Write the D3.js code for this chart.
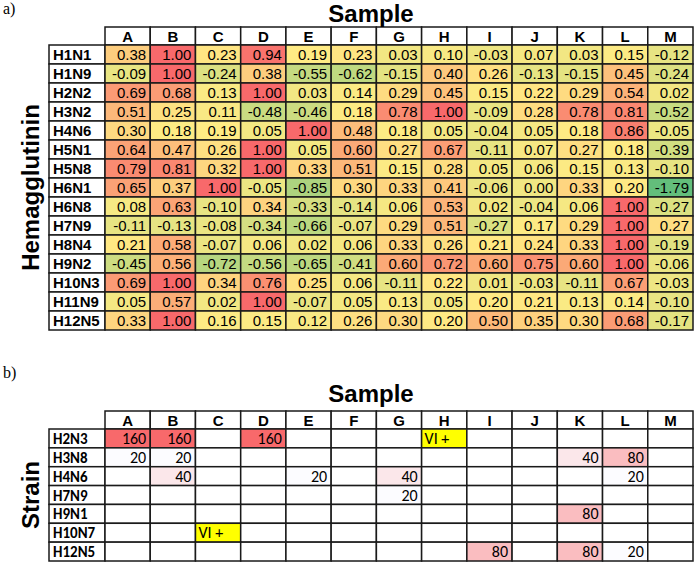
<!doctype html>
<html>
<head>
<meta charset="utf-8">
<title>Heatmap tables</title>
<script src="https://cdn.jsdelivr.net/npm/d3@7"></script>
<style>
  body { margin: 0; background: #fff; }
  svg text { font-family: Arial, "Liberation Sans", sans-serif; }
  .panel { font-family: "Liberation Serif", "Times New Roman", serif !important; font-size: 16px; }
  .title { font-size: 24px; font-weight: bold; }
  .colhead { font-size: 15px; font-weight: bold; }
  .rowhead { font-size: 15px; font-weight: bold; }
  .val { font-size: 15px; }
  .rowhead2 { font-family: Carlito, Lato, "Open Sans", sans-serif !important; font-size: 15px; font-weight: bold; }
  .val2 { font-family: Carlito, Lato, "Open Sans", sans-serif !important; font-size: 16px; }
</style>
</head>
<body>
<script>
var samples = ["A","B","C","D","E","F","G","H","I","J","K","L","M"];

var haRows = ["H1N1","H1N9","H2N2","H3N2","H4N6","H5N1","H5N8","H6N1",
              "H6N8","H7N9","H8N4","H9N2","H10N3","H11N9","H12N5"];
var haValues = [
  [0.38, 1.00, 0.23, 0.94, 0.19, 0.23, 0.03, 0.10, -0.03, 0.07, 0.03, 0.15, -0.12],
  [-0.09, 1.00, -0.24, 0.38, -0.55, -0.62, -0.15, 0.40, 0.26, -0.13, -0.15, 0.45, -0.24],
  [0.69, 0.68, 0.13, 1.00, 0.03, 0.14, 0.29, 0.45, 0.15, 0.22, 0.29, 0.54, 0.02],
  [0.51, 0.25, 0.11, -0.48, -0.46, 0.18, 0.78, 1.00, -0.09, 0.28, 0.78, 0.81, -0.52],
  [0.30, 0.18, 0.19, 0.05, 1.00, 0.48, 0.18, 0.05, -0.04, 0.05, 0.18, 0.86, -0.05],
  [0.64, 0.47, 0.26, 1.00, 0.05, 0.60, 0.27, 0.67, -0.11, 0.07, 0.27, 0.18, -0.39],
  [0.79, 0.81, 0.32, 1.00, 0.33, 0.51, 0.15, 0.28, 0.05, 0.06, 0.15, 0.13, -0.10],
  [0.65, 0.37, 1.00, -0.05, -0.85, 0.30, 0.33, 0.41, -0.06, 0.00, 0.33, 0.20, -1.79],
  [0.08, 0.63, -0.10, 0.34, -0.33, -0.14, 0.06, 0.53, 0.02, -0.04, 0.06, 1.00, -0.27],
  [-0.11, -0.13, -0.08, -0.34, -0.66, -0.07, 0.29, 0.51, -0.27, 0.17, 0.29, 1.00, 0.27],
  [0.21, 0.58, -0.07, 0.06, 0.02, 0.06, 0.33, 0.26, 0.21, 0.24, 0.33, 1.00, -0.19],
  [-0.45, 0.56, -0.72, -0.56, -0.65, -0.41, 0.60, 0.72, 0.60, 0.75, 0.60, 1.00, -0.06],
  [0.69, 1.00, 0.34, 0.76, 0.25, 0.06, -0.11, 0.22, 0.01, -0.03, -0.11, 0.67, -0.03],
  [0.05, 0.57, 0.02, 1.00, -0.07, 0.05, 0.13, 0.05, 0.20, 0.21, 0.13, 0.14, -0.10],
  [0.33, 1.00, 0.16, 0.15, 0.12, 0.26, 0.30, 0.20, 0.50, 0.35, 0.30, 0.68, -0.17]
];

var strainRows = ["H2N3","H3N8","H4N6","H7N9","H9N1","H10N7","H12N5"];
// null = empty cell, "VI +" = virus isolated
var strainValues = [
  [160, 160, null, 160, null, null, null, "VI +", null, null, null, null, null],
  [20, 20, null, null, null, null, null, null, null, null, 40, 80, null],
  [null, 40, null, null, 20, null, 40, null, null, null, null, 20, null],
  [null, null, null, null, null, null, 20, null, null, null, null, null, null],
  [null, null, null, null, null, null, null, null, null, null, 80, null, null],
  [null, null, "VI +", null, null, null, null, null, null, null, null, null, null],
  [null, null, null, null, null, null, null, null, 80, null, 80, 20, null]
];

var W = 695, H = 562;
var svg = d3.select("body").append("svg")
  .attr("width", W).attr("height", H);

var labelX0 = 49;
var x = d3.scaleBand().domain(samples).range([105, 693]);

// colour scales
var allHa = d3.merge(haValues);
var haColor = d3.scaleLinear()
  .domain([d3.min(allHa), d3.median(allHa), d3.max(allHa)])
  .range(["#63BE7B", "#FFEB84", "#F8696B"])
  .interpolate(d3.interpolateRgb);
var nums = d3.merge(strainValues).filter(function(d) { return typeof d === "number"; });
var titreColor = d3.scaleLinear()
  .domain([d3.min(nums), d3.max(nums)])
  .range(["#FCFCFF", "#F8696B"]);

function drawTable(g, rows, values, y, headTop, cellFill, opts) {
  var stroke = "#1a1a1a";
  var cells = [];
  values.forEach(function(r, i) {
    r.forEach(function(v, j) { cells.push({ row: rows[i], col: samples[j], v: v }); });
  });

  // column headers
  g.selectAll(".hcell").data(samples).enter().append("rect")
    .attr("x", function(d) { return x(d); })
    .attr("y", headTop)
    .attr("width", x.bandwidth())
    .attr("height", y.range()[0] - headTop)
    .attr("fill", "#fff").attr("stroke", stroke).attr("stroke-width", 1.5);
  g.selectAll(".colhead").data(samples).enter().append("text")
    .attr("class", "colhead")
    .attr("x", function(d) { return x(d) + x.bandwidth() / 2; })
    .attr("y", headTop + (y.range()[0] - headTop) / 2 + 5.5)
    .attr("text-anchor", "middle")
    .text(function(d) { return d; });

  // row headers
  g.selectAll(".rcell").data(rows).enter().append("rect")
    .attr("x", labelX0).attr("y", function(d) { return y(d); })
    .attr("width", x.range()[0] - labelX0).attr("height", y.bandwidth())
    .attr("fill", "#fff").attr("stroke", stroke).attr("stroke-width", 1.5);
  g.selectAll(".rowlab").data(rows).enter().append("text")
    .attr("class", opts.rowClass)
    .attr("x", labelX0 + 4)
    .attr("y", function(d) { return y(d) + y.bandwidth() / 2 + 5.5; })
    .text(function(d) { return d; });

  // body cells
  g.selectAll(".cell").data(cells).enter().append("rect")
    .attr("x", function(d) { return x(d.col); })
    .attr("y", function(d) { return y(d.row); })
    .attr("width", x.bandwidth()).attr("height", y.bandwidth())
    .attr("fill", cellFill)
    .attr("stroke", stroke).attr("stroke-width", 1.5);

  g.selectAll(".vtxt").data(cells.filter(function(d) { return d.v !== null; }))
    .enter().append("text")
    .attr("class", opts.valClass)
    .attr("x", function(d) {
      return typeof d.v === "string" ? x(d.col) + 3 : x(d.col) + x.bandwidth() - 4;
    })
    .attr("y", function(d) { return y(d.row) + y.bandwidth() / 2 + 5.5; })
    .attr("text-anchor", function(d) { return typeof d.v === "string" ? "start" : "end"; })
    .text(opts.fmt);
}

// ---- panel a ----
var yTop = d3.scaleBand().domain(haRows).range([45, 330]);
var ga = svg.append("g");
drawTable(ga, haRows, haValues, yTop, 27,
  function(d) { return haColor(d.v); },
  { rowClass: "rowhead", valClass: "val", fmt: function(d) { return d.v.toFixed(2); } });

svg.append("text").attr("class", "panel").attr("x", 3).attr("y", 14).text("a)");
svg.append("text").attr("class", "title")
  .attr("x", (labelX0 + 693) / 2).attr("y", 22)
  .attr("text-anchor", "middle").text("Sample");
svg.append("text").attr("class", "title")
  .attr("transform", "translate(39," + (yTop.range()[0] + yTop.range()[1]) / 2 + ") rotate(-90)")
  .attr("text-anchor", "middle").text("Hemagglutinin");

// ---- panel b ----
var yBot = d3.scaleBand().domain(strainRows).range([429, 561]);
var gb = svg.append("g");
drawTable(gb, strainRows, strainValues, yBot, 411,
  function(d) {
    if (d.v === null) return "#fff";
    if (typeof d.v === "string") return "#FFFF00";
    return titreColor(d.v);
  },
  { rowClass: "rowhead2", valClass: "val2", fmt: function(d) { return d.v; } });

svg.append("text").attr("class", "panel").attr("x", 3).attr("y", 378).text("b)");
svg.append("text").attr("class", "title")
  .attr("x", (labelX0 + 693) / 2).attr("y", 402)
  .attr("text-anchor", "middle").text("Sample");
svg.append("text").attr("class", "title")
  .attr("transform", "translate(39," + (yBot.range()[0] + yBot.range()[1]) / 2 + ") rotate(-90)")
  .attr("text-anchor", "middle").text("Strain");
</script>
</body>
</html>
